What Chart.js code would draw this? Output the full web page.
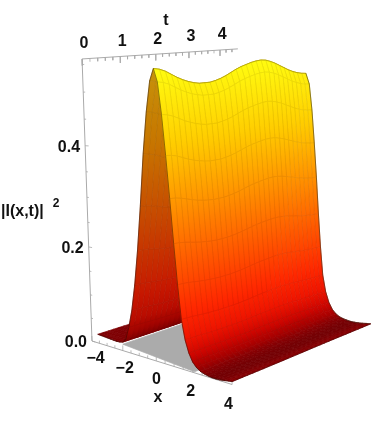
<!DOCTYPE html>
<html>
<head>
<meta charset="utf-8">
<title>|I(x,t)|^2</title>
<script src="https://cdn.jsdelivr.net/npm/chart.js@4"></script>
<style>
  html, body { margin: 0; padding: 0; background: #fff; }
  canvas { display: block; }
</style>
</head>
<body>
<canvas id="plot" width="383" height="428"></canvas>
<script>
/* ── DATA ── */
const xValues = [-3.6,-3.4,-3.2,-3,-2.8,-2.6,-2.4,-2.2,-2,-1.8,-1.6,-1.4,-1.2,-1,-0.8,-0.6,-0.4,-0.2,0,
  0.2,0.4,0.6,0.8,1,1.2,1.4,1.6,1.8,2,2.2,2.4,2.6,2.8,3,3.2,3.4,3.6,3.8,4];
// cross-section of the ridge, relative to its height
const xProfile = [0.006,0.006,0.006,0.006,0.006,0.006,0.006,0.008,0.012,0.03,0.08,0.15,0.25,0.38,0.54,0.72,0.86,0.96,1,
  0.96,0.86,0.73,0.59,0.44,0.3,0.18,0.11,0.066,0.038,0.022,0.012,0.007,0.004,0.002,0.002,0.003,0.005,0.008,0.01];
// height of the sheet above the box floor, away from the ridge
const floorLift = [0.0155,0.015,0.0145,0.014,0.0135,0.013,0.0125,0.012,0.0115,0.011,0.01,0.009,0.008,0.007,0.006,0.005,0.004,0.003,0.002,
  0.001,0,0,0,0,0,0,0,0,0,0,0,0,0,0,0,0,0,0,0];
const tValues = [0,0.15,0.3,0.45,0.6,0.75,0.9,1.05,1.2,1.35,1.5,1.65,1.8,1.95,2.1,2.25,2.4,2.55,2.7,2.85,3,3.15,3.3,3.45,3.6,3.75,3.9,4.05,4.2,4.35,4.5];
// ridge height along t
const ridgeHeight = [0.537,0.535,0.531,0.525,0.519,0.514,0.51,0.507,0.505,0.505,0.505,0.507,0.51,0.514,0.519,0.524,0.528,0.531,0.534,0.536,0.537,0.536,0.533,0.529,0.524,0.519,0.514,0.51,0.507,0.505,0.504];

const xTicks = [-4,-2,0,2,4];
const tTicks = [0,1,2,3,4];
const zTicks = [0,0.2,0.4];
const xMinorTicks = [-4,-3.5,-3,-2.5,-2,-1.5,-1,-0.5,0,0.5,1,1.5,2,2.5,3,3.5,4];
const tMinorTicks = [0,0.2,0.4,0.6,0.8,1,1.2,1.4,1.6,1.8,2,2.2,2.4,2.6,2.8,3,3.2,3.4,3.6,3.8,4,4.2,4.4];
const zMinorTicks = [0,0.05,0.1,0.15,0.2,0.25,0.3,0.35,0.4,0.45,0.5,0.55];

// colour by height
const heightStops = [0, 0.001, 0.004, 0.012, 0.03, 0.06, 0.11, 0.2, 0.3, 0.41, 0.53];
const heightColors = [[108,0,3],[115,0,3],[130,0,3],[165,0,0],[205,5,0],[238,20,0],[255,40,0],[255,90,0],[255,145,0],[255,205,0],[255,250,15]];

/* ── PROJECTION ── */
const T_MAX = 4.6, Z_MAX = 0.56;
function project(x, t, z) {
  const u = (x + 4) / 8, v = t / T_MAX, w = z / Z_MAX;
  const d = 1 - 0.15 * u + 0.15 * v - 0.0993 * w;
  return {
    x: (92 + 105.2 * u + 176 * v - 18.1 * w) / d,
    y: (341 - 14.2 * u - 1.75 * v - 287.9 * w) / d,
  };
}

function colorAt(z, under) {
  let i = 0;
  while (i < heightStops.length - 2 && z > heightStops[i + 1]) i++;
  const f = Math.min(1, (z - heightStops[i]) / (heightStops[i + 1] - heightStops[i]));
  const c = heightColors[i].map((a, k) => a + (heightColors[i + 1][k] - a) * f);
  if (under) { c[0] *= 0.78; c[1] *= 0.58; c[2] *= 0.6; }
  return `rgb(${c[0].toFixed(0)},${c[1].toFixed(0)},${c[2].toFixed(0)})`;
}

const levelAt = (i, j) => xProfile[i] * ridgeHeight[j];
const zAt = (i, j) => levelAt(i, j) + floorLift[i];
const areaOf = q => {
  let s = 0;
  q.forEach((p, k) => { const n = q[(k + 1) % q.length]; s += p.x * n.y - n.x * p.y; });
  return s;
};

/* ── DATASETS (painter order, far to near) ── */
const painted = [];
const line = (data, color, width) => ({
  data, borderColor: color, borderWidth: width, showLine: true, pointRadius: 0, tension: 0,
});

// box edges
painted.push(line([project(-4, T_MAX, Z_MAX), project(-4, 0, Z_MAX), project(-4, 0, 0), project(4, 0, 0)], '#aaa', 1));
xMinorTicks.forEach(v => {
  const long = xTicks.includes(v);
  painted.push(line([project(v, 0, 0), project(v, 0, long ? 0.011 : 0.006)], '#aaa', 0.8));
});
tMinorTicks.forEach(v => {
  const long = tTicks.includes(v);
  painted.push(line([project(-4, v, Z_MAX), project(-4, v, Z_MAX - (long ? 0.012 : 0.006))], '#aaa', 0.8));
});
zMinorTicks.forEach(v => {
  const long = zTicks.includes(v);
  painted.push(line([project(-4, 0, v), project(-4 + (long ? 0.22 : 0.12), 0, v)], '#aaa', 0.8));
});

// grey patch seen under the hump
painted.push({
  data: [project(-2, 0, 0.0136), project(2.1, 0, 0.002), project(2.1, 4.5, 0.002), project(-2, 4.5, 0.0136)],
  patch: '#ababab', showLine: false, pointRadius: 0,
});

// surface cells
for (let i = 0; i < xValues.length - 1; i++) {
  for (let j = tValues.length - 2; j >= 0; j--) {
    const q = [
      project(xValues[i], tValues[j], zAt(i, j)),
      project(xValues[i + 1], tValues[j], zAt(i + 1, j)),
      project(xValues[i + 1], tValues[j + 1], zAt(i + 1, j + 1)),
      project(xValues[i], tValues[j + 1], zAt(i, j + 1)),
    ];
    const floorSign = areaOf([project(xValues[i], tValues[j], 0), project(xValues[i + 1], tValues[j], 0),
      project(xValues[i + 1], tValues[j + 1], 0), project(xValues[i], tValues[j + 1], 0)]);
    const low = levelAt(i, j) < 0.02;
    painted.push({
      data: [...q, q[0]],
      cell: { zA: (levelAt(i, j) + levelAt(i, j + 1)) / 2, zB: (levelAt(i + 1, j) + levelAt(i + 1, j + 1)) / 2, under: areaOf(q) * floorSign < 0 },
      borderColor: low ? 'rgba(40,20,0,0.01)' : 'rgba(40,20,0,0.1)', borderWidth: 0.6, showLine: true, pointRadius: 0, tension: 0,
    });
  }
}

// surface outline
const mid = xValues.indexOf(0), lastT = tValues.length - 1, lastX = xValues.length - 1;
painted.push(line(tValues.map((t, j) => project(0, t, zAt(mid, j))), 'rgba(90,80,0,0.4)', 0.8));
painted.push(line(xValues.slice(mid).map((x, i) => project(x, tValues[lastT], zAt(mid + i, lastT))), 'rgba(50,40,20,0.6)', 0.9));
painted.push(line(tValues.map((t, j) => project(4, t, zAt(lastX, j))), 'rgba(40,0,0,0.5)', 0.8));
painted.push(line(xValues.map((x, i) => project(x, 0, zAt(i, 0))), 'rgba(30,10,0,0.55)', 0.8));

/* ── PLUGINS ── */
const surfaceFill = {
  id: 'surfaceFill',
  beforeDatasetDraw(chart, args) {
    const ds = chart.data.datasets[args.index];
    if (!ds.cell && !ds.patch) return;
    const p = args.meta.data, ctx = chart.ctx;
    ctx.save();
    ctx.beginPath();
    ctx.moveTo(p[0].x, p[0].y);
    for (let k = 1; k < 4; k++) ctx.lineTo(p[k].x, p[k].y);
    ctx.closePath();
    let style = ds.patch;
    if (ds.cell) {
      const { zA, zB, under } = ds.cell;
      style = ctx.createLinearGradient((p[0].x + p[3].x) / 2, (p[0].y + p[3].y) / 2, (p[1].x + p[2].x) / 2, (p[1].y + p[2].y) / 2);
      for (let s = 0; s <= 4; s++) style.addColorStop(s / 4, colorAt(zA + (zB - zA) * s / 4, under));
    }
    ctx.fillStyle = style;
    ctx.strokeStyle = style;
    ctx.lineWidth = 0.7;
    ctx.lineJoin = 'round';
    ctx.fill();
    ctx.stroke();
    ctx.restore();
  },
};

const axisText = {
  id: 'axisText',
  afterDraw(chart) {
    const ctx = chart.ctx;
    const sx = chart.scales.x, sy = chart.scales.y;
    const put = (txt, px, py, font, align) => {
      ctx.font = font || 'bold 16px "Liberation Sans"';
      ctx.textAlign = align || 'center';
      ctx.textBaseline = 'middle';
      ctx.fillStyle = '#111';
      ctx.fillText(txt, sx.getPixelForValue(px), sy.getPixelForValue(py));
    };
    xTicks.forEach(v => {
      const p = project(v, 0, 0);
      put(v < 0 ? '\u2212' + Math.abs(v) : String(v), p.x - v * 0.9, p.y + 19 + v * 0.4);
    });
    tTicks.forEach(v => {
      const p = project(-4, v, Z_MAX);
      put(String(v), p.x + 2, p.y - 15);
    });
    zTicks.forEach(v => {
      const p = project(-4, 0, v);
      put(v.toFixed(1), p.x - 5, p.y + 2, null, 'right');
    });
    put('t', 166, 21);
    put('x', 158, 398);
    put('|I(x,t)|', 1, 212, null, 'left');
    put('2', 56, 204, 'bold 12px "Liberation Sans"');
  },
};

/* ── CHART ── */
new Chart(document.getElementById('plot'), {
  type: 'scatter',
  data: { datasets: painted.slice().reverse() },   // first dataset is drawn on top
  options: {
    responsive: false,
    animation: false,
    events: [],
    layout: { padding: 0 },
    plugins: { legend: { display: false }, tooltip: { enabled: false } },
    scales: {
      x: { type: 'linear', min: 0, max: 383, display: false },
      y: { type: 'linear', min: 0, max: 428, reverse: true, display: false },
    },
  },
  plugins: [surfaceFill, axisText],
});
</script>
</body>
</html>
